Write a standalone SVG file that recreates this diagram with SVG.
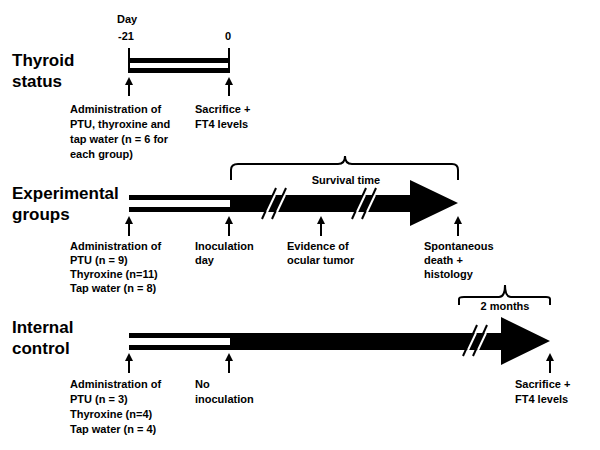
<svg xmlns="http://www.w3.org/2000/svg" width="600" height="450" viewBox="0 0 600 450">
<style>
text{font-family:"Liberation Sans",Arial,sans-serif;font-weight:bold;fill:#000}
.h{font-size:17px}
.s{font-size:11px}
.ln{stroke:#000;stroke-width:2;fill:none}
.sl{stroke:#000;stroke-width:2}
</style>
<defs>
<marker id="ah" viewBox="0 0 10 10" refX="5" refY="5" markerWidth="4" markerHeight="4" orient="auto"><path d="M0,0 L10,5 L0,10 z" fill="#000"/></marker>
</defs>
<rect width="600" height="450" fill="#fff"/>
<g id="labels">
<text class="h" x="12" y="66">Thyroid</text><text class="h" x="12" y="87">status</text>
<text class="h" x="12" y="199">Experimental</text><text class="h" x="12" y="220">groups</text>
<text class="h" x="12" y="333">Internal</text><text class="h" x="12" y="354">control</text>
<text class="s" x="117" y="23">Day</text><text class="s" x="118" y="40">-21</text><text class="s" x="225" y="40">0</text>
</g>
<g id="thyroid">
<rect x="129" y="58" width="100" height="5"/><rect x="129" y="68" width="100" height="5"/>
<rect x="128" y="48" width="2" height="25"/><rect x="228" y="48" width="2" height="25"/>
<text class="s" x="70" y="113">Administration of</text><text class="s" x="70" y="128">PTU, thyroxine and</text><text class="s" x="70" y="143">tap water (n = 6 for</text><text class="s" x="70" y="158">each group)</text>
<text class="s" x="195" y="113">Sacrifice +</text><text class="s" x="195" y="128">FT4 levels</text>
</g>
<g id="experimental">
<rect x="129" y="195" width="101" height="5"/><rect x="129" y="207" width="101" height="5"/>
<path d="M230,195 H410 V180 L458,203 L410,226 V212 H230 Z"/>
<path class="ln" d="M231,180 V170 Q231,164 238,164 H338 Q345,164 345,156 Q345,164 352,164 H452 Q458,164 458,170 V180"/>
<text class="s" x="346" y="184" text-anchor="middle">Survival time</text>
<text class="s" x="70" y="250">Administration of</text><text class="s" x="70" y="264">PTU (n = 9)</text><text class="s" x="70" y="278">Thyroxine (n=11)</text><text class="s" x="70" y="292">Tap water (n = 8)</text>
<text class="s" x="195" y="250">Inoculation</text><text class="s" x="195" y="264">day</text>
<text class="s" x="287" y="250">Evidence of</text><text class="s" x="287" y="264">ocular tumor</text>
<text class="s" x="424" y="250">Spontaneous</text><text class="s" x="424" y="264">death +</text><text class="s" x="424" y="278">histology</text>
</g>
<g id="internal">
<rect x="129" y="333" width="101" height="5"/><rect x="129" y="345" width="101" height="5"/>
<path d="M230,333 H501 V317 L550,341 L501,365 V350 H230 Z"/>
<path class="ln" d="M459,305 V299 Q459,297 464,297 H499 Q505,297 505,285 Q505,297 511,297 H546 Q550,297 550,299 V305"/>
<text class="s" x="505" y="310" text-anchor="middle">2 months</text>
<text class="s" x="70" y="388">Administration of</text><text class="s" x="70" y="403">PTU (n = 3)</text><text class="s" x="70" y="418">Thyroxine (n=4)</text><text class="s" x="70" y="433">Tap water (n = 4)</text>
<text class="s" x="195" y="388">No</text><text class="s" x="195" y="403">inoculation</text>
<text class="s" x="515" y="388">Sacrifice +</text><text class="s" x="515" y="403">FT4 levels</text>
</g>
<g id="connectors">
<g class="sl">
<line x1="129" y1="96" x2="129" y2="81" marker-end="url(#ah)"/><line x1="229" y1="96" x2="229" y2="81" marker-end="url(#ah)"/>
<line x1="129" y1="236" x2="129" y2="220" marker-end="url(#ah)"/><line x1="229" y1="236" x2="229" y2="220" marker-end="url(#ah)"/>
<line x1="321" y1="236" x2="321" y2="220" marker-end="url(#ah)"/><line x1="458" y1="236" x2="458" y2="220" marker-end="url(#ah)"/>
<line x1="129" y1="373" x2="129" y2="357" marker-end="url(#ah)"/><line x1="229" y1="373" x2="229" y2="357" marker-end="url(#ah)"/>
<line x1="550" y1="373" x2="550" y2="357" marker-end="url(#ah)"/>
</g>
<g stroke="#000" stroke-width="2">
<line x1="262" y1="219" x2="276" y2="188"/><line x1="272" y1="219" x2="286" y2="188"/>
<line x1="352" y1="219" x2="366" y2="188"/><line x1="362" y1="219" x2="376" y2="188"/>
<line x1="463" y1="356" x2="477" y2="325"/><line x1="473" y1="356" x2="487" y2="325"/>
</g>
<g stroke="#fff" stroke-width="2">
<line x1="267" y1="212" x2="275" y2="195"/><line x1="277" y1="212" x2="285" y2="195"/>
<line x1="357" y1="212" x2="365" y2="195"/><line x1="367" y1="212" x2="375" y2="195"/>
<line x1="468" y1="350" x2="476" y2="333"/><line x1="478" y1="350" x2="486" y2="333"/>
</g>
</g>
</svg>
